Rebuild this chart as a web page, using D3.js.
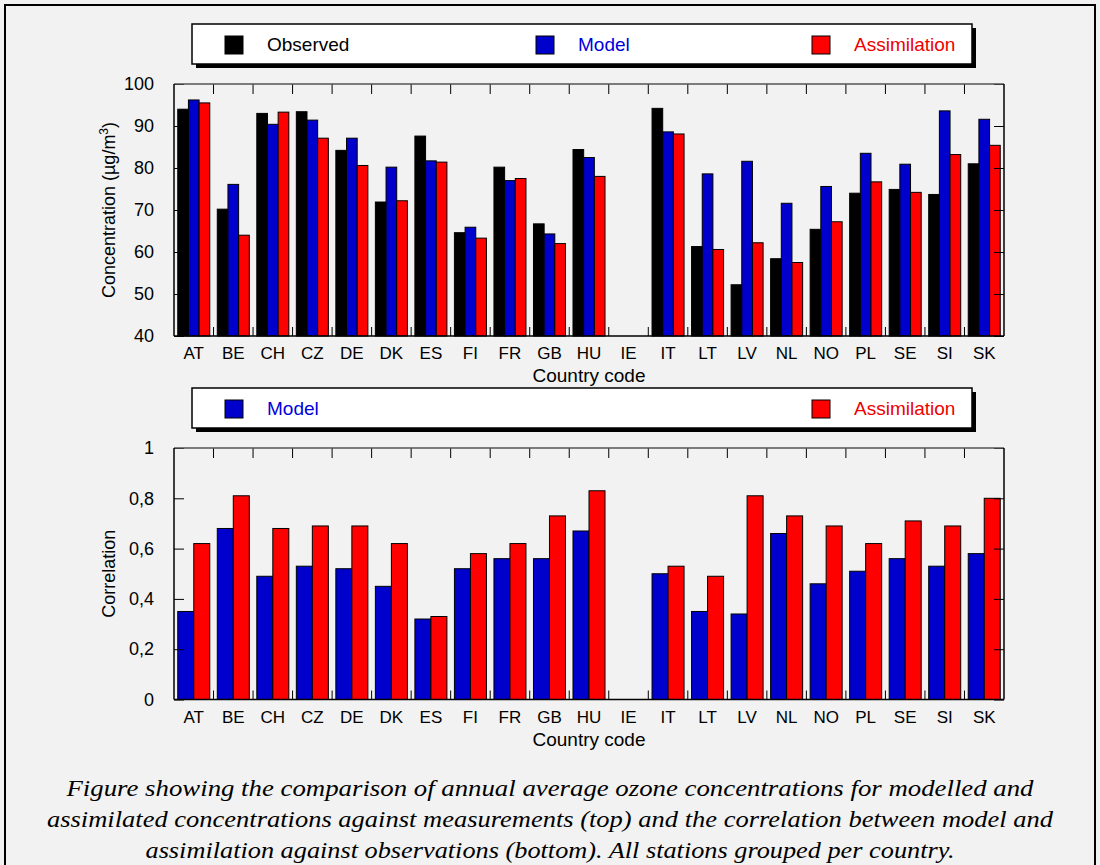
<!DOCTYPE html>
<html>
<head>
<meta charset="utf-8">
<script src="https://cdn.jsdelivr.net/npm/d3@7"></script>
<style>
  body { margin: 0; background: #fff; }
  svg { display: block; font-family: "Liberation Sans", Arial, sans-serif; }
</style>
</head>
<body>
<div id="visContainer"></div>
<script>
// country codes (IE has no data)
const countries = ["AT","BE","CH","CZ","DE","DK","ES","FI","FR","GB","HU","IE","IT","LT","LV","NL","NO","PL","SE","SI","SK"];

// annual average ozone, ug/m3
const observed     = [94.0,70.2,93.0,93.4,84.2,71.9,87.6,64.6,80.2,66.7,84.4,null,94.2,61.3,52.2,58.4,65.4,74.0,74.9,73.7,81.0];
const model        = [96.2,76.1,90.4,91.4,87.1,80.2,81.7,65.9,77.0,64.3,82.5,null,88.6,78.6,81.6,71.6,75.6,83.5,80.9,93.6,91.6];
const assimilation = [95.5,64.0,93.3,87.1,80.6,72.2,81.4,63.3,77.5,62.0,78.0,null,88.1,60.6,62.2,57.5,67.2,76.7,74.2,83.2,85.4];

// correlation against observations
const corrModel = [0.35,0.68,0.49,0.53,0.52,0.45,0.32,0.52,0.56,0.56,0.67,null,0.50,0.35,0.34,0.66,0.46,0.51,0.56,0.53,0.58];
const corrAssim = [0.62,0.81,0.68,0.69,0.69,0.62,0.33,0.58,0.62,0.73,0.83,null,0.53,0.49,0.81,0.73,0.69,0.62,0.71,0.69,0.80];

const concTicks = [40,50,60,70,80,90,100];
const corrTicks = [0,0.2,0.4,0.6,0.8,1];

const caption = [
  "Figure showing the comparison of annual average ozone concentrations for modelled and",
  "assimilated concentrations against measurements (top) and the correlation between model and",
  "assimilation against observations (bottom). All stations grouped per country."
];
const captionWidths = [967, 1006, 809];

const colBlack = "#000000", colBlue = "#0000cc", colRed = "#ff0000";

const width = 1100, height = 865;
const svg = d3.select("#visContainer").append("svg")
  .attr("width", width).attr("height", height);

svg.append("rect").attr("width", width).attr("height", height).attr("fill", "#f2f2f2");
svg.append("rect").attr("x", 5).attr("y", 5).attr("width", 1090).attr("height", 880)
  .attr("fill", "none").attr("stroke", "#000").attr("stroke-width", 2);

const left = 174, right = 1004;

function drawLegend(y, items) {
  const g = svg.append("g");
  g.append("rect").attr("x", 196).attr("y", y + 4).attr("width", 780).attr("height", 40).attr("fill", "#000");
  g.append("rect").attr("x", 192).attr("y", y).attr("width", 780).attr("height", 40)
    .attr("fill", "#fff").attr("stroke", "#000").attr("stroke-width", 1.5);
  items.forEach(it => {
    g.append("rect").attr("x", it.x).attr("y", y + 12).attr("width", 18).attr("height", 18)
      .attr("fill", it.color).attr("stroke", "#000").attr("stroke-width", 1);
    g.append("text").attr("x", it.x + 42).attr("y", y + 27).attr("font-size", 19)
      .attr("fill", it.text).text(it.label);
  });
}

function drawPanel(opts) {
  const { top, bottom, domain, ticks, fmt, series, colors, title } = opts;

  const x = d3.scaleBand().domain(countries).range([left, right])
    .paddingInner(0.19).paddingOuter(0.095);
  const xs = d3.scaleBand().domain(d3.range(series.length)).range([0, x.bandwidth()]);
  const y = d3.scaleLinear().domain(domain).range([bottom, top]);

  const g = svg.append("g");

  // bars
  series.forEach((vals, si) => {
    g.append("g").selectAll("rect")
      .data(countries.map((c, i) => ({ c, v: vals[i] })).filter(d => d.v != null))
      .join("rect")
      .attr("x", d => x(d.c) + xs(si))
      .attr("y", d => y(d.v))
      .attr("width", xs.bandwidth())
      .attr("height", d => bottom - y(d.v))
      .attr("fill", colors[si])
      .attr("stroke", "#000")
      .attr("stroke-width", 1);
  });

  // category boundary ticks (top pointing down, bottom pointing up)
  const bounds = countries.slice(0, -1).map(c => x(c) + x.bandwidth() + x.step() * x.paddingInner() / 2);
  g.append("g").selectAll("line").data(bounds).join("line")
    .attr("x1", d => d).attr("x2", d => d).attr("y1", top).attr("y2", top + 10)
    .attr("stroke", "#000").attr("stroke-width", 1);
  g.append("g").selectAll("line").data(bounds).join("line")
    .attr("x1", d => d).attr("x2", d => d).attr("y1", bottom).attr("y2", bottom - 9)
    .attr("stroke", "#000").attr("stroke-width", 1);

  // left axis
  const ya = g.append("g").attr("transform", `translate(${left},0)`)
    .call(d3.axisLeft(y).tickValues(ticks).tickFormat(fmt).tickSizeInner(-10).tickSizeOuter(0).tickPadding(20));
  ya.select(".domain").remove();
  ya.selectAll("text").attr("font-size", 18).attr("fill", "#000").style("font-family", "Liberation Sans, Arial, sans-serif");
  ya.selectAll("line").attr("stroke", "#000");

  // right axis ticks
  const yr = g.append("g").attr("transform", `translate(${right},0)`)
    .call(d3.axisRight(y).tickValues(ticks).tickFormat("").tickSizeInner(-10).tickSizeOuter(0));
  yr.select(".domain").remove();
  yr.selectAll("line").attr("stroke", "#000");

  // frame
  g.append("line").attr("x1", left).attr("x2", right).attr("y1", top).attr("y2", top).attr("stroke", "#555").attr("stroke-width", 1.5);
  g.append("line").attr("x1", left).attr("x2", right).attr("y1", bottom).attr("y2", bottom).attr("stroke", "#000").attr("stroke-width", 1.5);
  g.append("line").attr("x1", left).attr("x2", left).attr("y1", top).attr("y2", bottom).attr("stroke", "#000").attr("stroke-width", 1.5);
  g.append("line").attr("x1", right).attr("x2", right).attr("y1", top).attr("y2", bottom).attr("stroke", "#000").attr("stroke-width", 1.5);

  // x labels
  g.append("g").selectAll("text").data(countries).join("text")
    .attr("x", d => x(d) + x.bandwidth() / 2)
    .attr("y", bottom + 23)
    .attr("text-anchor", "middle").attr("font-size", 17).text(d => d);
  g.append("text").attr("x", (left + right) / 2).attr("y", bottom + 46)
    .attr("text-anchor", "middle").attr("font-size", 19).text("Country code");

  // y title
  const t = g.append("text")
    .attr("transform", `translate(115,${(top + bottom) / 2}) rotate(-90)`)
    .attr("text-anchor", "middle").attr("font-size", 18);
  title(t);
}

drawLegend(24, [
  { x: 225, color: colBlack, text: "#000", label: "Observed" },
  { x: 536, color: colBlue, text: "#0000dd", label: "Model" },
  { x: 812, color: colRed, text: "#ee0000", label: "Assimilation" }
]);

drawPanel({
  top: 84, bottom: 336, domain: [40, 100], ticks: concTicks, fmt: d3.format("d"),
  series: [observed, model, assimilation], colors: [colBlack, colBlue, colRed],
  title: t => {
    t.append("tspan").text("Concentration (µg/m");
    t.append("tspan").attr("font-size", 12).attr("dy", -7).text("3");
    t.append("tspan").attr("dy", 7).text(")");
  }
});

drawLegend(388, [
  { x: 225, color: colBlue, text: "#0000dd", label: "Model" },
  { x: 812, color: colRed, text: "#ee0000", label: "Assimilation" }
]);

drawPanel({
  top: 448, bottom: 699.5, domain: [0, 1], ticks: corrTicks,
  fmt: d => d === 0 ? "0" : d === 1 ? "1" : d3.format(".1f")(d).replace(".", ","),
  series: [corrModel, corrAssim], colors: [colBlue, colRed],
  title: t => t.text("Correlation")
});

// caption
svg.append("g").selectAll("text").data(caption).join("text")
  .attr("x", 550).attr("y", (d, i) => 796 + i * 31)
  .attr("text-anchor", "middle")
  .attr("font-family", "Liberation Serif, Times New Roman, serif")
  .attr("font-style", "italic").attr("font-size", 24)
  .attr("textLength", (d, i) => captionWidths[i])
  .attr("lengthAdjust", "spacingAndGlyphs")
  .text(d => d);
</script>
</body>
</html>
